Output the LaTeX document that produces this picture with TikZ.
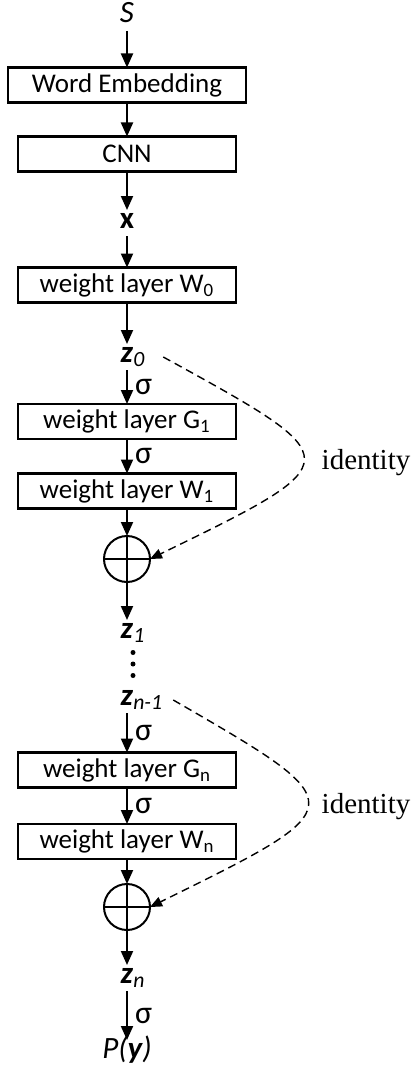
\documentclass[tikz,border=0pt]{standalone}
\usepackage{fontspec}
\setmainfont{Carlito}
\newfontfamily\idfont{Liberation Serif}
\usetikzlibrary{positioning, arrows.meta}

\newcommand{\zvec}[1]{\textbf{\textit{z}}\rlap{\textsubscript{\textit{#1}}}}

\begin{document}
\begin{tikzpicture}[x=1pt, y=1pt, every node/.style={font=\fontsize{13.5}{16}\selectfont, outer sep=0pt},
  layer/.style={draw, rectangle, line width=1.1pt, minimum width=109pt, minimum height=17.5pt, inner sep=0pt},
  lbl/.style={inner sep=0pt, text height=9pt, text depth=4pt, font=\fontsize{15.5}{18}\selectfont},
  add/.style={draw, circle, line width=1pt, minimum size=23pt, inner sep=0pt},
  flow/.style={-{Triangle[length=7pt, width=6pt]}, line width=1pt},
  sig/.style={midway, right, inner xsep=4pt, font=\fontsize{16}{18}\selectfont},
  skip/.style={dash pattern=on 4pt off 2.5pt, line width=0.7pt, -{Triangle[length=6pt, width=5pt]}}]
  \useasboundingbox (0,0) rectangle (207,-535);

  \node (S) [lbl] at (63.5,-9) {\textit{S}};
  \node (emb) [layer, minimum width=119pt, below=18.25pt of S] {Word Embedding};
  \node (cnn) [layer, below=17pt of emb] {CNN};
  \node (x) [lbl, below=19.25pt of cnn] {\textbf{x}};
  \node (W0) [layer, below=15.75pt of x] {weight layer W\textsubscript{0}};
  \node (z0) [lbl, below=20.75pt of W0] {\zvec{0}};
  \node (G1) [layer, below=17pt of z0] {weight layer G\textsubscript{1}};
  \node (W1) [layer, below=17.25pt of G1] {weight layer W\textsubscript{1}};
  \node (plus1) [add, below=13.75pt of W1] {};
  \node (z1) [lbl, below=19pt of plus1] {\zvec{1}};
  \node (dots) [minimum height=11.5pt, inner sep=0pt, below=3.25pt of z1] {};
  \node (zn1) [lbl, below=5.75pt of dots] {\zvec{n-1}};
  \node (Gn) [layer, below=19.75pt of zn1] {weight layer G\textsubscript{n}};
  \node (Wn) [layer, below=18.25pt of Gn] {weight layer W\textsubscript{n}};
  \node (plus2) [add, below=12.5pt of Wn] {};
  \node (zn) [lbl, below=17.5pt of plus2] {\zvec{n}};
  \node (Py) [lbl, below=24.5pt of zn] {\textit{P(\textbf{y})}};
  \node (id1) at (183,-231.5) {\idfont\fontsize{14.5}{16}\selectfont identity};
  \node (id2) at (183,-403.5) {\idfont\fontsize{14.5}{16}\selectfont identity};

  % main path
  \draw [flow] (S) -- (emb);
  \draw [flow] (emb) -- (cnn);
  \draw [flow] (cnn) -- (x);
  \draw [flow] (x) -- (W0);
  \draw [flow] (W0) -- (z0);
  \draw [flow] (z0) -- node [sig] {σ} (G1);
  \draw [flow] (G1) -- node [sig] {σ} (W1);
  \draw [flow] (W1) -- (plus1);
  \draw [flow] (plus1) -- (z1);
  \draw [flow] (zn1) -- node [sig] {σ} (Gn);
  \draw [flow] (Gn) -- node [sig] {σ} (Wn);
  \draw [flow] (Wn) -- (plus2);
  \draw [flow] (plus2) -- (zn);
  \draw [flow] (zn) -- node [sig] {σ} (Py);

  % adders
  \draw [line width=1pt] (plus1.north) -- (plus1.south) (plus1.west) -- (plus1.east);
  \draw [line width=1pt] (plus2.north) -- (plus2.south) (plus2.west) -- (plus2.east);
  \foreach \a in {north, center, south}
    \fill ([xshift=3pt]dots.\a) circle (1.25pt);

  % identity shortcuts
  \draw [skip] ([xshift=15pt]z0.east) .. controls (176,-230.3) .. (plus1.east);
  \draw [skip] ([xshift=20pt]zn1.east) .. controls (178,-402.8) .. (plus2.east);
\end{tikzpicture}
\end{document}
